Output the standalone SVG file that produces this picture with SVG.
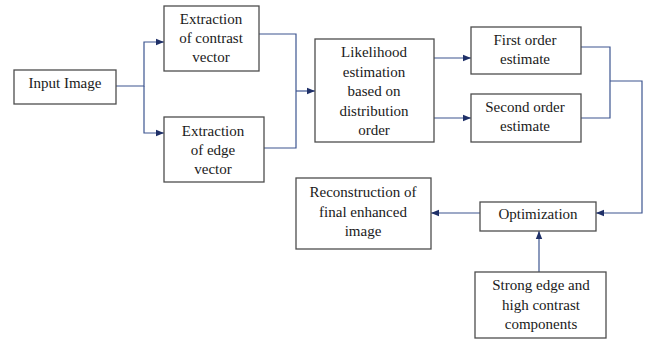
<svg xmlns="http://www.w3.org/2000/svg" width="653" height="342" viewBox="0 0 653 342">
<defs>
<marker id="arr" markerUnits="userSpaceOnUse" markerWidth="8" markerHeight="8" viewBox="0 0 8 8" refX="8" refY="4" orient="auto">
<path d="M0,0.8 L8,4 L0,7.2 Z" fill="#1f3068"/>
</marker>
<style>
.box{fill:#fff;stroke:#4d4d4d;stroke-width:1.3}
.c{fill:none;stroke:#3d5590;stroke-width:1.2}
</style>
</defs>
<rect width="653" height="342" fill="#fff"/>
<g id="connectors">
<path class="c" d="M116,86 H144 V42 H164" marker-end="url(#arr)"/>
<path class="c" d="M144,86 V133 H164" marker-end="url(#arr)"/>
<path class="c" d="M259,34 H296 V148 H264"/>
<path class="c" d="M296,91 H315" marker-end="url(#arr)"/>
<path class="c" d="M434,58 H471" marker-end="url(#arr)"/>
<path class="c" d="M434,118 H471" marker-end="url(#arr)"/>
<path class="c" d="M581,47 H610 V118 H581"/>
<path class="c" d="M610,81 H642 V213 H596" marker-end="url(#arr)"/>
<path class="c" d="M480,213 H431" marker-end="url(#arr)"/>
<path class="c" d="M539,272 V231" marker-end="url(#arr)"/>
</g>
<g font-family="Liberation Serif, Times New Roman, DejaVu Serif, serif" font-size="15" fill="#1a1a1a" text-anchor="middle">
<g id="input">
<rect class="box" x="14" y="70" width="102" height="34"/>
<text x="65" y="88">Input Image</text>
</g>
<g id="contrast">
<rect class="box" x="164" y="6" width="95" height="65"/>
<text x="211" y="24">Extraction</text>
<text x="211" y="43">of contrast</text>
<text x="211" y="62">vector</text>
</g>
<g id="edge">
<rect class="box" x="164" y="117" width="100" height="65"/>
<text x="213" y="136">Extraction</text>
<text x="213" y="155">of edge</text>
<text x="213" y="174">vector</text>
</g>
<g id="likelihood">
<rect class="box" x="315" y="39" width="119" height="103"/>
<text x="374" y="57">Likelihood</text>
<text x="374" y="77">estimation</text>
<text x="374" y="96">based on</text>
<text x="374" y="116">distribution</text>
<text x="374" y="135">order</text>
</g>
<g id="first">
<rect class="box" x="471" y="27" width="110" height="47"/>
<text x="525" y="45">First order</text>
<text x="525" y="64">estimate</text>
</g>
<g id="second">
<rect class="box" x="471" y="94" width="110" height="48"/>
<text x="525" y="112">Second order</text>
<text x="525" y="131">estimate</text>
</g>
<g id="reconstruction">
<rect class="box" x="296" y="178" width="135" height="71"/>
<text x="363" y="197">Reconstruction of</text>
<text x="363" y="217">final enhanced</text>
<text x="363" y="236">image</text>
</g>
<g id="optimization">
<rect class="box" x="480" y="202" width="116" height="29"/>
<text x="538" y="219">Optimization</text>
</g>
<g id="strong">
<rect class="box" x="475" y="272" width="131" height="66"/>
<text x="541" y="290">Strong edge and</text>
<text x="541" y="310">high contrast</text>
<text x="541" y="329">components</text>
</g>
</g>
</svg>
